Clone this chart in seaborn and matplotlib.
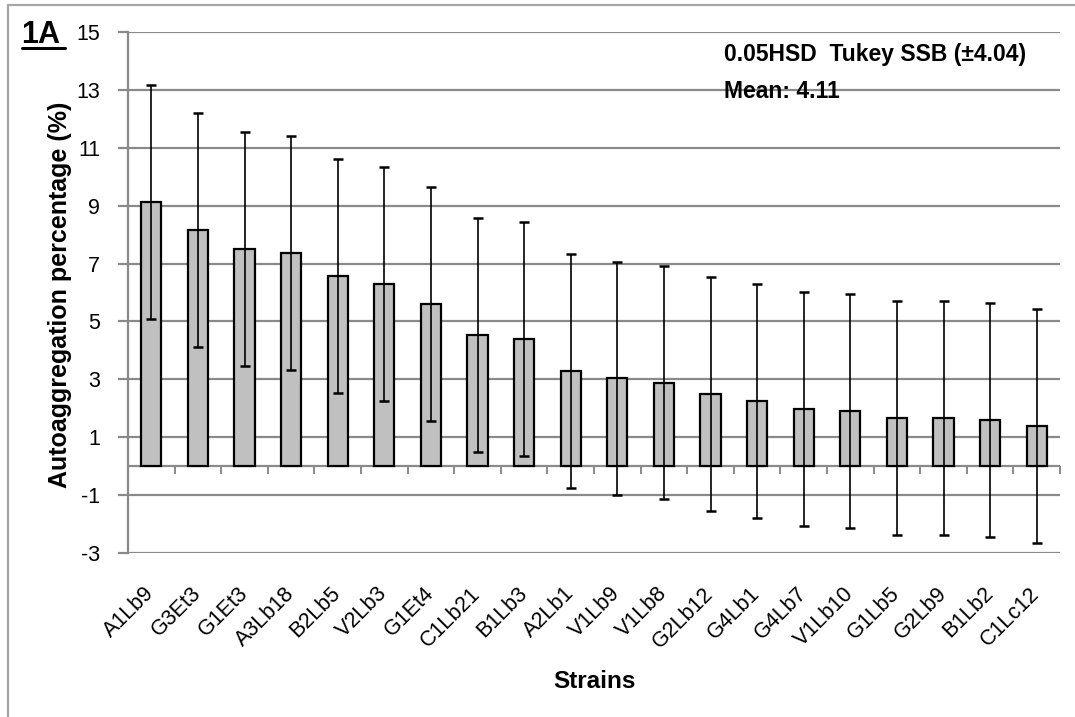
import matplotlib
matplotlib.use("Agg")
import matplotlib.pyplot as plt
import seaborn as sns
import numpy as np
import pandas as pd
from matplotlib.patches import Rectangle
from matplotlib.ticker import FixedLocator

# ---- data ----
strains = ["A1Lb9", "G3Et3", "G1Et3", "A3Lb18", "B2Lb5", "V2Lb3", "G1Et4", "C1Lb21",
           "B1Lb3", "A2Lb1", "V1Lb9", "V1Lb8", "G2Lb12", "G4Lb1", "G4Lb7", "V1Lb10",
           "G1Lb5", "G2Lb9", "B1Lb2", "C1Lc12"]
autoaggregation = [9.13, 8.15, 7.49, 7.35, 6.57, 6.30, 5.59, 4.54, 4.40, 3.29,
                   3.03, 2.89, 2.50, 2.25, 1.98, 1.91, 1.66, 1.66, 1.59, 1.39]
hsd = 4.04
y_ticks = [-3, -1, 1, 3, 5, 7, 9, 11, 13, 15]
annotation_lines = ["0.05HSD  Tukey SSB (\u00b14.04)", "Mean: 4.11"]
panel_label = "1A"

df = pd.DataFrame({"Strain": strains, "Value": autoaggregation})

sns.set_theme(style="white")
plt.rcParams["font.family"] = ["Liberation Sans", "DejaVu Sans"]
plt.rcParams["text.color"] = "black"
plt.rcParams["axes.labelcolor"] = "black"

W, H = 1075, 717
fig = plt.figure(figsize=(W / 100, H / 100), dpi=100)
ax_l, ax_r, ax_t, ax_b = 128, 1060, 32, 553
ax = fig.add_axes([ax_l / W, 1 - ax_b / H, (ax_r - ax_l) / W, (ax_b - ax_t) / H])

sns.barplot(data=df, x="Strain", y="Value", color="#C0C0C0", edgecolor="black",
            linewidth=1.6, width=0.43, errorbar=None, saturation=1, ax=ax, zorder=2)
x = np.arange(len(strains))
ax.errorbar(x, autoaggregation, yerr=hsd, fmt="none", ecolor="black",
            elinewidth=1.2, capsize=3.8, capthick=1.8, zorder=3)

grid_col = "#8A8A8A"
ymin, ymax = -3, 15
ax.set_ylim(ymin, ymax)
ax.set_xlim(-0.5, len(strains) - 0.5)
ax.set_yticks(y_ticks)
ax.set_yticklabels([str(t) for t in y_ticks], fontsize=15.5)
ax.yaxis.grid(True, color=grid_col, linewidth=1.6, zorder=0)
ax.set_axisbelow(True)

for s in ["top", "right", "bottom"]:
    ax.spines[s].set_visible(False)
ax.spines["left"].set_color(grid_col)
ax.spines["left"].set_linewidth(1.6)
ax.tick_params(axis="y", which="major", direction="out", length=7, width=1.6,
               color=grid_col, left=True, pad=13, labelcolor="black")

# category axis line at y = 0 with boundary tick marks
ax.axhline(0, color=grid_col, linewidth=1.6, zorder=1)
sec = ax.secondary_xaxis((0 - ymin) / (ymax - ymin))
sec.spines["bottom"].set_visible(False)
sec.xaxis.set_major_locator(FixedLocator(list(np.arange(len(strains) + 1) - 0.5)))
sec.tick_params(axis="x", direction="out", length=6, width=1.4, color=grid_col,
                labelbottom=False)

ax.tick_params(axis="x", length=0, pad=27, labelcolor="black")
ax.set_xticks(x)
ax.set_xticklabels(strains, rotation=45, ha="right", va="center",
                   rotation_mode="anchor", fontsize=15.5)
ax.set_xlabel("Strains", fontsize=17.5, fontweight="bold")
ax.xaxis.label.set_va("center")
ax.xaxis.set_label_coords(0.5, (ax_b - 681) / (ax_b - ax_t))
ax.set_ylabel("Autoaggregation percentage (%)", fontsize=18, fontweight="bold")
ax.yaxis.set_label_coords((72 - ax_l) / (ax_r - ax_l), (ax_b - 294.5) / (ax_b - ax_t))

# annotations
for line, yy in zip(annotation_lines, [55, 91]):
    fig.text(724 / W, 1 - yy / H, line, fontsize=16.5, fontweight="bold",
             va="center", ha="left", color="black")
fig.text(21.5 / W, 1 - 42.7 / H, panel_label, fontsize=22, fontweight="bold",
         ha="left", va="baseline", color="black")
fig.add_artist(plt.Line2D([21.5 / W, 64.5 / W], [1 - 47.5 / H, 1 - 47.5 / H],
                          transform=fig.transFigure, color="black", linewidth=2.2))

# outer frame (top and left edges visible)
fig.add_artist(Rectangle((8 / W, -0.05), 1.2, 1 - 5 / H + 0.05, transform=fig.transFigure,
                         fill=False, edgecolor="#A6A6A6", linewidth=1.6))

fig.savefig("out.png", dpi=100)
